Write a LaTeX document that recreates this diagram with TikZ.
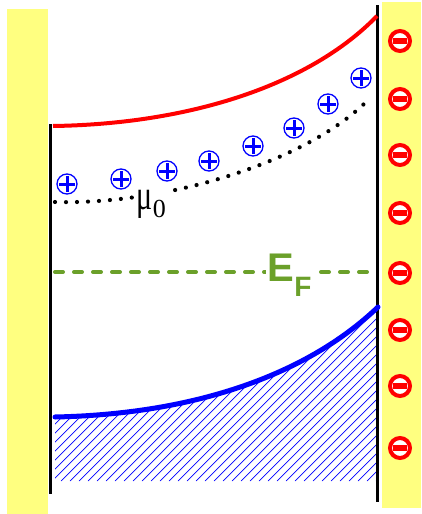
\documentclass[tikz,border=0pt]{standalone}
\usepackage{fontspec}
\setmainfont{Liberation Serif}
\newfontfamily\efsans{Liberation Sans}
\definecolor{padyellow}{RGB}{255,255,128}
\definecolor{efgreen}{RGB}{107,160,42}
\begin{document}
\begin{tikzpicture}[x=1pt,y=-1pt,
  pad/.style={fill=padyellow, draw=none},
  wall/.style={line width=3pt, black},
  plusion/.style={circle, draw=blue, line width=1.3pt, minimum size=20pt, inner sep=0pt, fill=white,
    path picture={\draw[blue, line width=3pt]
      ([xshift=-8pt]path picture bounding box.center) -- ([xshift=8pt]path picture bounding box.center)
      ([yshift=-8pt]path picture bounding box.center) -- ([yshift=8pt]path picture bounding box.center);}},
  minusion/.style={circle, draw=red, line width=4pt, minimum size=20pt, inner sep=0pt, fill=white,
    path picture={\fill[red] ([xshift=-7pt,yshift=-2.6pt]path picture bounding box.center) rectangle ([xshift=7pt,yshift=2.6pt]path picture bounding box.center);}},
  hatchline/.style={blue, line width=0.7pt},
]
\useasboundingbox (0,0) rectangle (421,514);
% electrodes
\fill[pad] (7,9) rectangle (48,514);
\fill[pad] (382,2) rectangle (421,508);
% hatched region
\begin{scope}
  \clip (55,481) -- (55,417) .. controls (200,414) and (310,372) .. (378,307) -- (378,481) -- cycle;
  \foreach \i in {-200,-191,...,380} \draw[hatchline] (\i,481) -- ++(200,-200);
\end{scope}
% walls
\coordinate (lwt) at (50,124);
\coordinate (lwb) at (50,494);
\coordinate (rwt) at (377,5);
\coordinate (rwb) at (377,502);
\draw[wall] (lwt) -- (lwb);
\draw[wall] (rwt) -- (rwb);
% bands
\coordinate (cbl) at (53,126);
\coordinate (cbr) at (377,16);
\draw[red, line width=4pt] (cbl) .. controls (190,124) and (310,85) .. (cbr);
\coordinate (vbl) at (55,417);
\coordinate (vbr) at (378,307);
\draw[blue, line width=5pt, line cap=round] (vbl) .. controls (200,414) and (310,372) .. (vbr);
% chemical potential (dotted)
\coordinate (mul) at (55,202);
\coordinate (mur) at (369,99);
\draw[black, line width=4.2pt, line cap=round, dash pattern=on 0pt off 11pt]
  (mul) .. controls (170,205) and (310,160) .. (mur);
% Fermi level
\coordinate (efl) at (55,272);
\coordinate (efr) at (377,272);
\draw[efgreen, line width=4pt, line cap=round, dash pattern=on 8pt off 11pt] (efl) -- (efr);
% labels
\node[fill=white, inner sep=1.5pt, anchor=base west] (mu) at (135,209)
  {\fontsize{30}{30}\selectfont\scalebox{1}[1.4]{μ}\raisebox{-8pt}{\fontsize{26}{26}\selectfont 0}};
\node[fill=white, inner sep=1.5pt, anchor=base west, text=efgreen] (ef) at (266,281)
  {\efsans\bfseries\fontsize{40}{40}\selectfont E\raisebox{-15pt}{\fontsize{28}{28}\selectfont F}};
% positive charges
\foreach \n/\x/\y in {1/67/184, 2/121/179, 3/167/171, 4/209/161, 5/253/146, 6/294/128, 7/328/104, 8/361/78}
  \node[plusion] (p\n) at (\x,\y) {};
% negative charges
\foreach \n/\y in {1/41, 2/99, 3/155, 4/213, 5/273, 6/330, 7/386, 8/448}
  \node[minusion] (m\n) at (400,\y) {};
\end{tikzpicture}
\end{document}
